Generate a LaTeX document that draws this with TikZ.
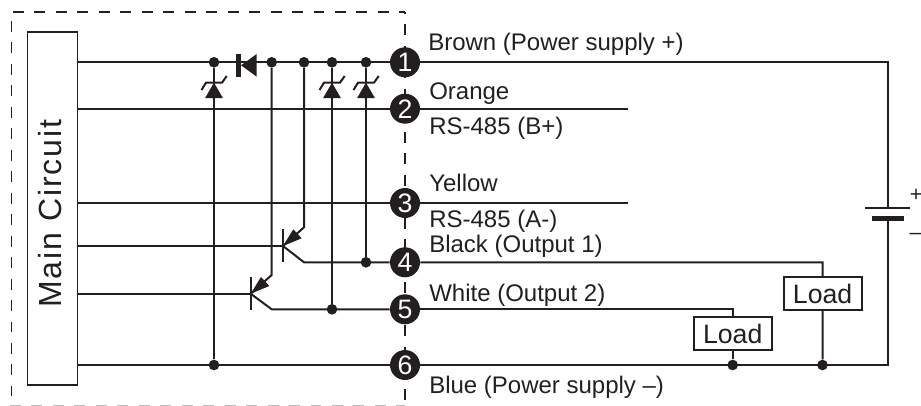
\documentclass[tikz,border=0pt]{standalone}
\usepackage{fontspec}
\usetikzlibrary{backgrounds}
\setmainfont{Liberation Sans}
\newfontfamily\spacedfont[LetterSpace=6]{Liberation Sans}
\definecolor{ink}{HTML}{231F20}
\tikzset{
  x=0.75pt,y=-0.75pt,
  wire/.style={draw=ink,line width=1.5pt},
  thinwire/.style={draw=ink,line width=1.5pt},
  dashbox/.style={draw=ink,line width=1.2pt,dash pattern=on 8.2pt off 7.9pt},
  edgedash/.style={draw=ink!30,line width=0.9pt,dash pattern=on 8.2pt off 7.9pt},
  term/.style={circle,fill=ink,inner sep=0pt,minimum size=22.5pt,text=white,font=\fontsize{20}{20}\selectfont},
  junct/.style={circle,fill=ink,inner sep=0pt,minimum size=8pt},
  lbl/.style={anchor=base west,inner sep=0pt,text=ink,font=\fontsize{18}{18}\selectfont},
  signlbl/.style={anchor=base west,inner sep=0pt,text=ink,font=\fontsize{16}{16}\selectfont},
  box/.style={draw=ink,line width=1.4pt,fill=white,inner sep=0pt,text=ink,font=\fontsize{20}{20}\selectfont},
}
\newcommand{\zener}[1]{%
  \fill[ink] (#1,82.7) -- ++(9,15.5) -- ++(-18,0) -- cycle;
  \draw[thinwire] (#1-12.5,90) -- (#1-8,82.7) -- (#1+8,82.7) -- (#1+12.7,76);
}
\begin{document}
\begin{tikzpicture}
\useasboundingbox (0,0) rectangle (921,406);
% main circuit
\node[box,rotate=90,minimum width=264.75pt,minimum height=37.5pt] (main) at (52.5,208.8) {};
\node[rotate=90,inner sep=0pt,text=ink,font=\spacedfont\fontsize{24}{24}\selectfont] (mtext) at (50.5,213.5) {Main Circuit};
% terminals
\foreach \n/\yy in {1/62.3,2/108.7,3/203,4/262.3,5/309.3,6/365}{
  \node[term] (t\n) at (405,\yy) {\n};
}
% junctions
\foreach \nm/\xx/\yy in {ja/214/62.3,jb/271.7/62.3,jc/304/62.3,jd/332/62.3,je/366/62.3,
  jf/366/262.3,jg/332/309.3,jh/214/365,ji/732.7/365,jj/822.5/365}{
  \node[junct] (\nm) at (\xx,\yy) {};
}
\coordinate (m1) at (77.5,62.3);
\coordinate (m2) at (77.5,108.7);
\coordinate (m3) at (77.5,203);
\coordinate (m4) at (77.5,246);
\coordinate (m5) at (77.5,293.7);
\coordinate (m6) at (77.5,365);
\node[box,minimum width=58.5pt,minimum height=24.75pt] (load1) at (822.6,293.8) {Load};
\node[box,minimum width=58.5pt,minimum height=24.75pt] (load2) at (732.7,333.7) {Load};
\begin{pgfonlayer}{background}
% dashed enclosure
\coordinate (dtl) at (13,12);
\coordinate (dtr) at (405,12);
\coordinate (dl) at (11.5,21);
\coordinate (dbl) at (11.5,396);
\coordinate (dbb) at (10,405.4);
\coordinate (dbr) at (405,405.4);
\coordinate (drt) at (405,24.5);
\draw[dashbox] (dtl) -- (dtr);
\draw[dashbox] (dl) -- (dbl);
\draw[edgedash] (dbb) -- (dbr);
\draw[dashbox] (drt) -- (405,404);
\draw[draw=ink,line width=1.2pt] (dtr) -- (405,14.5);
% wires
\draw[wire] (m1) -- (t1);
\draw[wire] (m2) -- (628,108.7) coordinate (e2);
\draw[wire] (m3) -- (628,203) coordinate (e3);
\draw[wire] (m6) -- (887.7,365) coordinate (brb) -- (887.7,218.7) coordinate (bneg);
\draw[wire] (887.7,208.3) coordinate (bpos) -- (887.7,62.3) coordinate (brt) -- (t1);
\draw[wire] (ja) -- (jh);
\draw[wire] (jd) -- (jg);
\draw[wire] (je) -- (jf);
\draw[thinwire] (jb) -- (271.7,275) coordinate (e2a) -- (250.7,293.7) coordinate (b2);
\draw[thinwire] (jc) -- (304,227.3) coordinate (e1a) -- (283,246) coordinate (b1);
\draw[thinwire] (m4) -- (b1);
\draw[thinwire] (m5) -- (b2);
\draw[wire] (283,229.3) -- (283,262.3);
\draw[wire] (250.7,276.7) -- (250.7,309.5);
\draw[thinwire] (b1) -- (304,262.3) coordinate (c1) -- (t4);
\draw[thinwire] (b2) -- (271.7,309.3) coordinate (c2) -- (t5);
\draw[thinwire] (t4) -- (822.7,262.3) coordinate (o1) -- (load1);
\draw[thinwire] (t5) -- (732.7,309.3) coordinate (o2) -- (load2);
\draw[wire] (load1) -- (jj);
\draw[wire] (load2) -- (ji);
\end{pgfonlayer}
% emitter arrow heads
\fill[ink] (283,246) -- (301.7,238.3) -- (293.3,229.3) -- cycle;
\fill[ink] (250.7,293.7) -- (269.4,286) -- (261,277) -- cycle;
% zeners
\zener{214}\zener{332}\zener{366}
% diode
\fill[ink] (236,54) rectangle (241,76.7);
\fill[ink] (241,65.3) -- (256.7,54) -- (256.7,76.7) -- cycle;
% battery
\draw[draw=ink,line width=1.2pt] (865,208.3) -- (910,208.3);
\draw[draw=ink,line width=4pt] (871.7,218.7) -- (904.3,218.7);
% labels
\node[lbl] (lb1) at (428,51) {Brown (Power supply +)};
\node[lbl] (lb2) at (429,99.3) {Orange};
\node[lbl] (lb3) at (429,135) {RS-485 (B+)};
\node[lbl] (lb4) at (429,191.7) {Yellow};
\node[lbl] (lb5) at (429,227.3) {RS-485 (A-)};
\node[lbl] (lb6) at (429,252.7) {Black (Output 1)};
\node[lbl] (lb7) at (429,301) {White (Output 2)};
\node[lbl] (lb8) at (429,393) {Blue (Power supply –)};
\node[signlbl] (plus) at (909.6,201) {+};
\node[signlbl] (minus) at (909.4,239.5) {–};
\end{tikzpicture}
\end{document}
